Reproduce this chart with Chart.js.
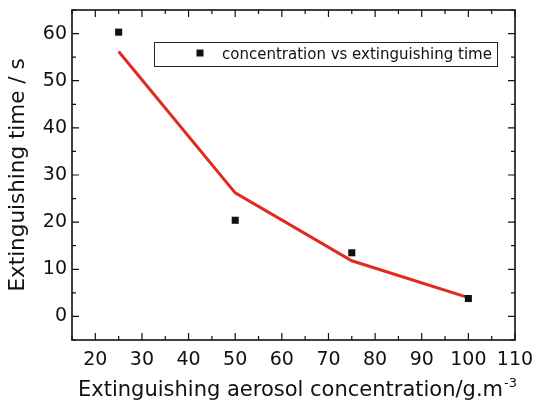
<!DOCTYPE html>
<html>
<head>
<meta charset="utf-8">
<script src="https://cdn.jsdelivr.net/npm/chart.js@4/dist/chart.umd.min.js"></script>
<style>
  html, body { margin: 0; padding: 0; background: #fff; }
  #wrap { width: 537px; height: 401px; }
</style>
</head>
<body>
<div id="wrap"><canvas id="fireChart" width="537" height="401"></canvas></div>
<script>
// measured points (squares) and the red trend line
const concentration = [25, 50, 75, 100];
const extinguishTime = [60.3, 20.4, 13.5, 3.8];
const fitTime = [56.2, 26.2, 11.8, 4.0];

const xTickValues = [20, 30, 40, 50, 60, 70, 80, 90, 100, 110];
const yTickValues = [0, 10, 20, 30, 40, 50, 60];

const pointLabel = 'concentration vs extinguishing time';
const yTitle = 'Extinguishing time / s';
const xTitle = 'Extinguishing aerosol concentration/g.m';
const xTitleSup = '-3';

const fontName = '"DejaVu Sans", Verdana, sans-serif';

// frame, inward ticks on all four sides, legend box and x title
const framePlugin = {
    id: 'framePlugin',
    afterDraw(chart) {
        const ctx = chart.ctx;
        const area = chart.chartArea;
        const xs = chart.scales.x;
        const ys = chart.scales.y;
        ctx.save();
        ctx.strokeStyle = '#111';
        ctx.lineWidth = 1.6;
        ctx.strokeRect(area.left, area.top, area.right - area.left, area.bottom - area.top);

        ctx.lineWidth = 1.2;
        ctx.beginPath();
        for (let v = 15; v <= 110; v += 5) {
            const px = xs.getPixelForValue(v);
            const len = (v % 10 === 0) ? 7 : 4;
            ctx.moveTo(px, area.bottom); ctx.lineTo(px, area.bottom - len);
            ctx.moveTo(px, area.top); ctx.lineTo(px, area.top + len);
        }
        for (let v = -5; v <= 65; v += 5) {
            const py = ys.getPixelForValue(v);
            const len = (v % 10 === 0) ? 7 : 4;
            ctx.moveTo(area.left, py); ctx.lineTo(area.left + len, py);
            ctx.moveTo(area.right, py); ctx.lineTo(area.right - len, py);
        }
        ctx.stroke();

        // legend box
        const lx = 154, ly = 42, lw = 343, lh = 24;
        ctx.fillStyle = '#fff';
        ctx.fillRect(lx, ly, lw, lh);
        ctx.lineWidth = 1;
        ctx.strokeStyle = '#222';
        ctx.strokeRect(lx + 0.5, ly + 0.5, lw, lh);
        ctx.fillStyle = '#111';
        ctx.fillRect(196.5, 49.5, 7, 7);
        ctx.font = '15px ' + fontName;
        ctx.textBaseline = 'middle';
        ctx.fillText(pointLabel, 222, ly + lh / 2 + 1);

        // x axis title with superscript
        ctx.font = '21px ' + fontName;
        ctx.textBaseline = 'alphabetic';
        ctx.fillStyle = '#111';
        const w = ctx.measureText(xTitle).width;
        const startX = 78;
        ctx.fillText(xTitle, startX, 396);
        ctx.font = '13px ' + fontName;
        ctx.fillText(xTitleSup, startX + w + 1, 387);
        ctx.restore();
    }
};

const ctx = document.getElementById('fireChart');

new Chart(ctx, {
    type: 'scatter',
    data: {
        datasets: [
            {
                label: 'fit',
                data: concentration.map((c, i) => ({ x: c, y: fitTime[i] })),
                showLine: true,
                borderColor: '#e1291f',
                borderWidth: 3,
                pointRadius: 0,
                tension: 0,
                order: 2
            },
            {
                label: pointLabel,
                data: concentration.map((c, i) => ({ x: c, y: extinguishTime[i] })),
                pointStyle: 'rect',
                pointRadius: 5,
                backgroundColor: '#111',
                borderColor: '#111',
                borderWidth: 0,
                order: 1
            }
        ]
    },
    options: {
        responsive: false,
        animation: false,
        layout: { padding: { top: 10, right: 22, left: 0, bottom: 0 } },
        plugins: {
            legend: { display: false },
            tooltip: { enabled: false }
        },
        scales: {
            x: {
                type: 'linear',
                min: 15,
                max: 110,
                afterBuildTicks: (scale) => { scale.ticks = xTickValues.map(v => ({ value: v })); },
                afterFit: (scale) => {
                    scale.height = 61;
                    scale.paddingLeft = 0;
                    scale.paddingRight = 0;
                },
                grid: { display: false, drawTicks: false },
                border: { display: false },
                ticks: {
                    color: '#111',
                    padding: 9,
                    maxRotation: 0,
                    font: { family: fontName, size: 19 }
                },
                title: { display: false }
            },
            y: {
                type: 'linear',
                min: -5,
                max: 65,
                afterBuildTicks: (scale) => { scale.ticks = yTickValues.map(v => ({ value: v })); },
                afterFit: (scale) => {
                    scale.width = 72;
                    scale.paddingTop = 0;
                    scale.paddingBottom = 0;
                },
                grid: { display: false, drawTicks: false },
                border: { display: false },
                ticks: {
                    color: '#111',
                    padding: 5,
                    font: { family: fontName, size: 19 }
                },
                title: {
                    display: true,
                    text: yTitle,
                    color: '#111',
                    padding: { top: 6, bottom: 0 },
                    font: { family: fontName, size: 21.5 }
                }
            }
        }
    },
    plugins: [framePlugin]
});
</script>
</body>
</html>
